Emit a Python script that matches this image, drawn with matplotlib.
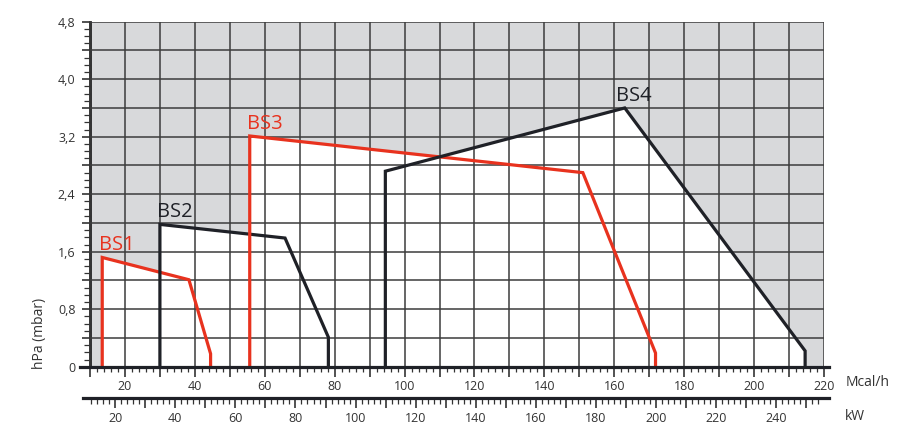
"""Burner working-field chart: BS1..BS4 envelopes, pressure vs. output."""

import matplotlib
matplotlib.use("Agg")
import matplotlib.pyplot as plt
from matplotlib.ticker import MultipleLocator, FuncFormatter

plt.rcParams["font.family"] = ["Open Sans", "DejaVu Sans"]

# output in Mcal/h, pressure in hPa (mbar)
BS1_X = [13.5, 13.5, 38.3, 44.5, 44.5]
BS1_Y = [0.0, 1.52, 1.21, 0.18, 0.0]
BS2_X = [30.0, 30.0, 65.8, 78.2, 78.2]
BS2_Y = [0.0, 1.98, 1.79, 0.41, 0.0]
BS3_X = [55.7, 55.7, 151.0, 171.8, 171.8]
BS3_Y = [0.0, 3.21, 2.70, 0.19, 0.0]
BS4_X = [94.5, 94.5, 163.0, 214.6, 214.6]
BS4_Y = [0.0, 2.72, 3.60, 0.22, 0.0]

# (name, x, y, colour, vertex the label sits on)
SERIES = [("BS1", BS1_X, BS1_Y, "#e8321e", 1),
          ("BS2", BS2_X, BS2_Y, "#1f2127", 1),
          ("BS3", BS3_X, BS3_Y, "#e8321e", 1),
          ("BS4", BS4_X, BS4_Y, "#1f2127", 2)]

X_MIN, X_MAX = 10, 220
Y_MIN, Y_MAX = 0, 4.8
KW_PER_MCAL = 1.163

TICK_COLOR = "#333333"
GRID_COLOR = "#3c3c3c"
SHADE = "#d8d9db"

W, H = 900, 448
fig = plt.figure(figsize=(W / 100, H / 100), dpi=100)
fig.patch.set_facecolor("white")

# main axes in pixel box: x 90..824, y 21.7..366.7
ax = fig.add_axes([90 / W, 1 - 366.7 / H, (824 - 90) / W, (366.7 - 21.7) / H])
ax.set_facecolor(SHADE)
ax.set_xlim(X_MIN, X_MAX)
ax.set_ylim(Y_MIN, Y_MAX)

# white working fields
for _, xs, ys, _, _ in SERIES:
    ax.fill(xs, ys, color="white", lw=0, zorder=1)

# grid
ax.xaxis.set_major_locator(MultipleLocator(10))
ax.xaxis.set_minor_locator(MultipleLocator(2))
ax.yaxis.set_major_locator(MultipleLocator(0.4))
ax.yaxis.set_minor_locator(MultipleLocator(0.1))
ax.grid(which="major", color=GRID_COLOR, lw=1.1, zorder=2)
ax.set_axisbelow(False)

for name, xs, ys, col, _ in SERIES:
    ax.plot(xs, ys, color=col, lw=2.3, solid_joinstyle="miter", zorder=4)

for name, xs, ys, col, k in SERIES:
    dx = -2.6 if k == 2 else -0.9
    ax.text(xs[k] + dx, ys[k] + 0.1, name, color=col, fontsize=14.5,
            ha="left", va="baseline", zorder=5)

ax.xaxis.set_major_formatter(FuncFormatter(lambda v, p: f"{v:.0f}" if round(v) % 20 == 0 else ""))
ax.yaxis.set_major_formatter(FuncFormatter(
    lambda v, p: ("0" if abs(v) < 1e-9 else f"{v:.1f}".replace(".", ","))
    if round(v * 10) % 8 == 0 else ""))

ax.tick_params(axis="x", which="major", direction="out", length=7, width=1.2,
               color=TICK_COLOR, labelcolor=TICK_COLOR, labelsize=9, pad=2.5)
ax.tick_params(axis="x", which="minor", direction="out", length=3.5, width=0.9,
               color=TICK_COLOR)
ax.tick_params(axis="y", which="major", direction="out", length=6, width=1.2,
               color=TICK_COLOR, labelcolor=TICK_COLOR, labelsize=9, pad=4.5)
ax.tick_params(axis="y", which="minor", direction="out", length=4, width=0.9,
               color=TICK_COLOR)

for side in ("top", "right"):
    ax.spines[side].set_visible(False)
ax.spines["left"].set_color("#222222")
ax.spines["left"].set_linewidth(2.0)
ax.spines["bottom"].set_visible(False)
ax.plot([-0.014, 1.007], [0, 0], transform=ax.transAxes, color="#1f2127",
        lw=2.3, clip_on=False, zorder=6)

fig.text(868 / W, 1 - 382 / H, "Mcal/h", fontsize=10, color=TICK_COLOR,
         ha="center", va="center")
fig.text(40 / W, 1 - 333 / H, "hPa (mbar)", fontsize=10, color=TICK_COLOR,
         ha="center", va="center", rotation=90)

# kW scale below
kw = fig.add_axes([90 / W, 1 - 398 / H, (824 - 90) / W, 0.0001])
kw.set_xlim(X_MIN * KW_PER_MCAL, X_MAX * KW_PER_MCAL)
kw.set_ylim(0, 1)
kw.patch.set_visible(False)
for side in ("top", "right", "left", "bottom"):
    kw.spines[side].set_visible(False)
kw.set_yticks([])
kw.xaxis.set_major_locator(MultipleLocator(10))
kw.xaxis.set_minor_locator(MultipleLocator(2))
kw.xaxis.set_major_formatter(FuncFormatter(lambda v, p: f"{v:.0f}" if round(v) % 20 == 0 else ""))
kw.tick_params(axis="x", which="major", direction="out", length=7, width=1.2,
               color=TICK_COLOR, labelcolor=TICK_COLOR, labelsize=9, pad=3)
kw.tick_params(axis="x", which="minor", direction="out", length=4, width=0.9,
               color=TICK_COLOR)
kw.plot([-0.01, 1.007], [0, 0], transform=kw.transAxes, color="#1f2127",
        lw=2.3, clip_on=False)

fig.text(855 / W, 1 - 416 / H, "kW", fontsize=10, color=TICK_COLOR,
         ha="center", va="center")

fig.savefig("out.png", dpi=100)
